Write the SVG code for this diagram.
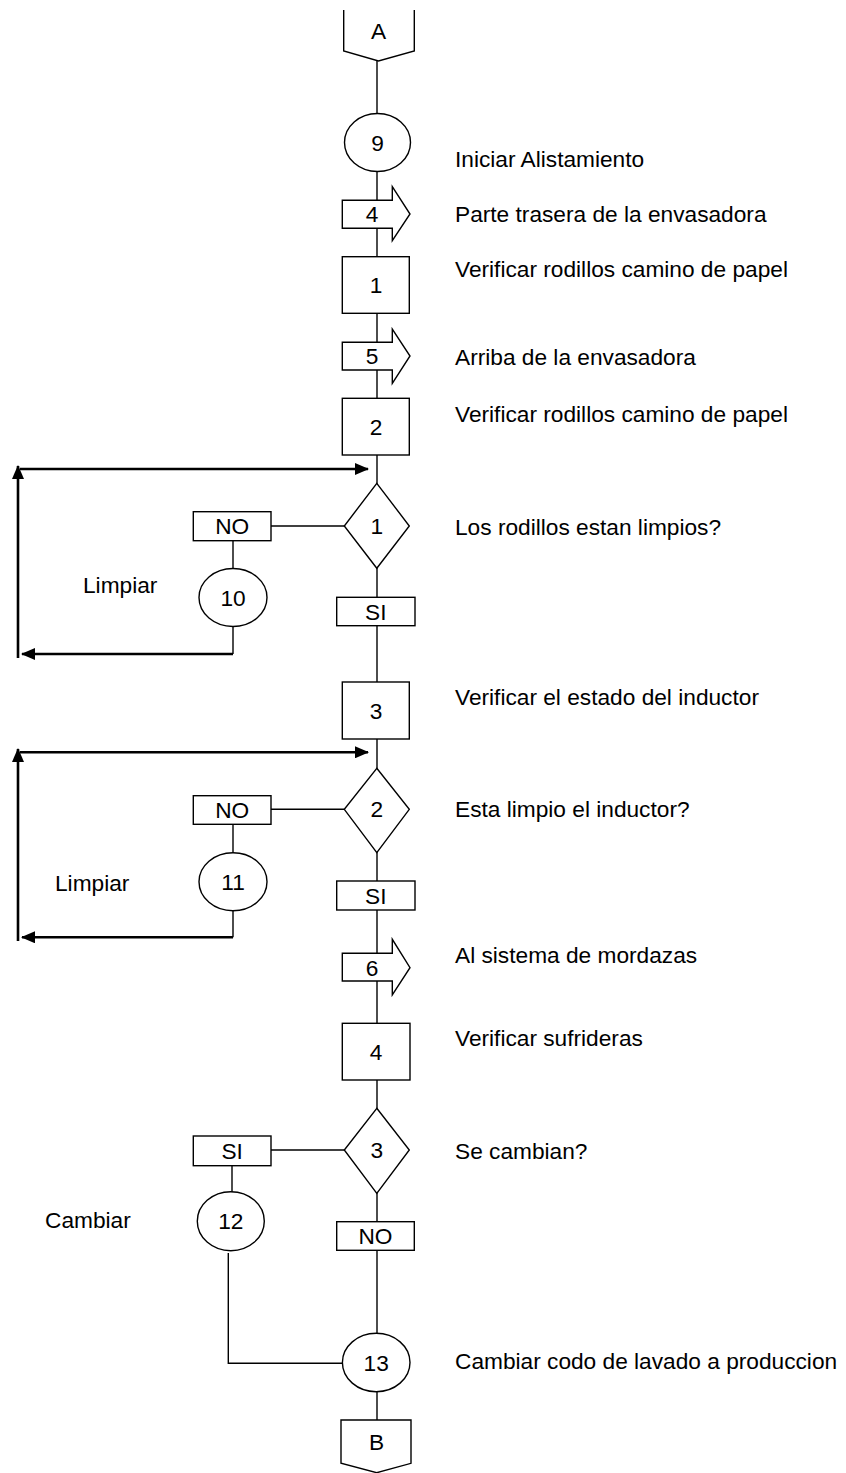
<svg xmlns="http://www.w3.org/2000/svg" width="846" height="1473" viewBox="0 0 846 1473">
<style>
text{font-family:"Liberation Sans",Arial,sans-serif;font-size:22.7px;fill:#000}
.c{text-anchor:middle}
.s{fill:#fff;stroke:#000;stroke-width:1.4}
.l{fill:none;stroke:#000;stroke-width:1.4}
.a{fill:none;stroke:#000;stroke-width:2.6}
</style>
<defs>
<marker id="ah" markerUnits="userSpaceOnUse" markerWidth="14" markerHeight="12" refX="13" refY="6" orient="auto">
<path d="M0,0 L14,6 L0,12 Z" fill="#000"/>
</marker>
</defs>
<rect width="846" height="1473" fill="#fff"/>
<g id="connectors">
<line class="l" x1="377" y1="61" x2="377" y2="1420"/>
<line class="l" x1="271" y1="526" x2="344" y2="526"/>
<line class="l" x1="233" y1="541" x2="233" y2="654"/>
<path class="a" d="M233,654 H22" marker-end="url(#ah)"/>
<path class="a" d="M18,658 V466" marker-end="url(#ah)"/>
<path class="a" d="M20,469 H368" marker-end="url(#ah)"/>
<line class="l" x1="271" y1="809.3" x2="344" y2="809.3"/>
<line class="l" x1="233" y1="824" x2="233" y2="937.3"/>
<path class="a" d="M233,937.3 H22" marker-end="url(#ah)"/>
<path class="a" d="M18,941 V749" marker-end="url(#ah)"/>
<path class="a" d="M20,752.3 H368" marker-end="url(#ah)"/>
<line class="l" x1="271" y1="1150" x2="344" y2="1150"/>
<line class="l" x1="232" y1="1166" x2="232" y2="1192"/>
<path class="l" d="M228.3,1253 V1363.3 H342"/>
</g>
<g id="A"><path class="s" d="M343.7,10 V51 L378.5,61 L414.3,51 V10"/><text class="c" x="378.5" y="39">A</text></g>
<g id="op9"><ellipse class="s" cx="377.5" cy="142.5" rx="33" ry="29"/><text class="c" x="377.5" y="150.5">9</text></g>
<g id="tr4"><path class="s" d="M342.3,200.3 H392.3 V186.7 L410,214 L392.3,240.7 V228.3 H342.3 Z"/><text class="c" x="372" y="222">4</text></g>
<g id="in1"><rect class="s" x="342.3" y="256.7" width="67" height="56.6"/><text class="c" x="376" y="293">1</text></g>
<g id="tr5"><path class="s" d="M342.3,342.3 H392.3 V329 L410,356 L392.3,383.3 V370 H342.3 Z"/><text class="c" x="372" y="364">5</text></g>
<g id="in2"><rect class="s" x="342.3" y="398.3" width="67" height="56.7"/><text class="c" x="376" y="435">2</text></g>
<g id="d1"><path class="s" d="M376.8,483.3 L409.3,526 L376.8,568.3 L344.3,526 Z"/><text class="c" x="376.8" y="534">1</text></g>
<g id="no1"><rect class="s" x="193.3" y="511.7" width="77.7" height="29"/><text class="c" x="232.2" y="534">NO</text></g>
<g id="op10"><ellipse class="s" cx="233" cy="597.5" rx="34" ry="29"/><text class="c" x="233" y="605.5">10</text></g>
<g id="si1"><rect class="s" x="336.7" y="597.3" width="78.3" height="28.4"/><text class="c" x="375.8" y="619.5">SI</text></g>
<g id="in3"><rect class="s" x="342.3" y="682" width="67" height="57"/><text class="c" x="376" y="718.5">3</text></g>
<g id="d2"><path class="s" d="M376.8,768.3 L409.3,809.3 L376.8,852.7 L344.3,809.3 Z"/><text class="c" x="376.8" y="817.3">2</text></g>
<g id="no2"><rect class="s" x="193.3" y="795.7" width="77.7" height="28.6"/><text class="c" x="232.2" y="818">NO</text></g>
<g id="op11"><ellipse class="s" cx="233" cy="881.7" rx="34" ry="29"/><text class="c" x="233" y="889.7">11</text></g>
<g id="si2"><rect class="s" x="336.7" y="881" width="78.3" height="29"/><text class="c" x="375.8" y="903.5">SI</text></g>
<g id="tr6"><path class="s" d="M342.3,953.3 H392.3 V939.3 L410,967.7 L392.3,995 V981 H342.3 Z"/><text class="c" x="372" y="975.5">6</text></g>
<g id="in4"><rect class="s" x="342.3" y="1023.3" width="67.7" height="56.7"/><text class="c" x="376" y="1060">4</text></g>
<g id="d3"><path class="s" d="M376.8,1108.3 L409.3,1150 L376.8,1193.3 L344.3,1150 Z"/><text class="c" x="376.8" y="1158">3</text></g>
<g id="si3"><rect class="s" x="193.3" y="1136" width="77.7" height="29.7"/><text class="c" x="232.2" y="1158.5">SI</text></g>
<g id="op12"><ellipse class="s" cx="230.8" cy="1221.2" rx="33.5" ry="29.5"/><text class="c" x="230.8" y="1229.2">12</text></g>
<g id="no3"><rect class="s" x="336.7" y="1221.7" width="77.6" height="28.6"/><text class="c" x="375.5" y="1244">NO</text></g>
<g id="op13"><ellipse class="s" cx="376.2" cy="1362.5" rx="33.8" ry="29.2"/><text class="c" x="376.2" y="1370.5">13</text></g>
<g id="B"><path class="s" d="M341,1420 H411 V1463.3 L376.7,1472.7 L341,1463.3 Z"/><text class="c" x="376.5" y="1450">B</text></g>
<g id="labels">
<text x="455" y="166.7">Iniciar Alistamiento</text>
<text x="455" y="221.7">Parte trasera de la envasadora</text>
<text x="455" y="276.7">Verificar rodillos camino de papel</text>
<text x="455" y="365">Arriba de la envasadora</text>
<text x="455" y="421.7">Verificar rodillos camino de papel</text>
<text x="455" y="535">Los rodillos estan limpios?</text>
<text x="455" y="705">Verificar el estado del inductor</text>
<text x="455" y="816.7">Esta limpio el inductor?</text>
<text x="455" y="963">Al sistema de mordazas</text>
<text x="455" y="1046">Verificar sufrideras</text>
<text x="455" y="1159">Se cambian?</text>
<text x="455" y="1369">Cambiar codo de lavado a produccion</text>
<text x="83" y="593">Limpiar</text>
<text x="55" y="891">Limpiar</text>
<text x="45" y="1228">Cambiar</text>
</g>
</svg>
